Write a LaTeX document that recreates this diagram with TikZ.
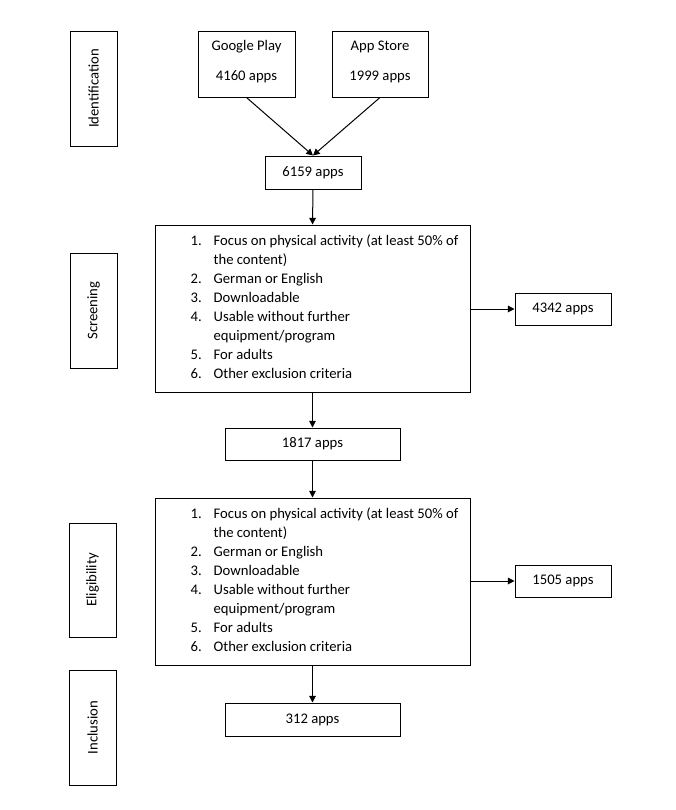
\documentclass[tikz,border=0pt]{standalone}
\usepackage{fontspec}
\setmainfont{Carlito}
\usetikzlibrary{arrows.meta}
\newcommand\critlist{%
\begin{tabular}{@{}p{17.25pt}@{}l@{}}
1. & Focus on physical activity (at least 50\% of\\
   & the content)\\
2. & German or English\\
3. & Downloadable\\
4. & Usable without further\\
   & equipment/program\\
5. & For adults\\
6. & Other exclusion criteria
\end{tabular}}
\begin{document}
\begin{tikzpicture}[x=0.75pt,y=-0.75pt,
  every node/.style={font=\fontsize{11}{13.4}\selectfont},
  box/.style={draw,line width=0.75pt,inner sep=0pt,align=center},
  sz/.style 2 args={minimum width=#1*0.75pt,minimum height=#2*0.75pt},
  stage/.style={box,rotate=90},
  listtext/.style={inner sep=0pt,font=\fontsize{11}{14.2}\selectfont},
  arr/.style={line width=0.75pt,-{Triangle[length=5pt,width=5pt]}}]
\useasboundingbox (0,0) rectangle (675,810);

% stage labels
\node[stage,sz={115}{47}] (ident) at (93.5,88.5) {Identification};
\node[stage,sz={115}{47}] (scrn) at (93.5,310.5) {Screening};
\node[stage,sz={114}{47}] (elig) at (92.5,580) {Eligibility};
\node[stage,sz={115}{47}] (incl) at (92.5,727.5) {Inclusion};

% sources
\node[box,sz={97}{66},label={[yshift=1.5pt,align=center]center:Google Play\\[9pt]4160 apps}] (gp) at (246.5,64) {};
\node[box,sz={96}{66},label={[yshift=1.5pt,align=center]center:App Store\\[9pt]1999 apps}] (as) at (380,64) {};

\node[box,sz={96}{33}] (n6159) at (313,172.5) {6159 apps};

% screening
\node[box,sz={315}{167}] (scr) at (312.5,308.5) {};
\node[listtext] (scrlist) at (324.5,308) {\critlist};
\node[box,sz={96}{32}] (n4342) at (563,309) {4342 apps};
\node[box,sz={175}{32}] (n1817) at (312.5,444) {1817 apps};

% eligibility
\node[box,sz={315}{167}] (elb) at (312.5,581.5) {};
\node[listtext] (ellist) at (324.5,581) {\critlist};
\node[box,sz={96}{32}] (n1505) at (563,581) {1505 apps};
\node[box,sz={175}{33}] (n312) at (312.5,719.5) {312 apps};

% connectors
\draw[arr] (gp.south) -- (n6159.north);
\draw[arr] (as.south) -- (n6159.north);
\draw[arr] (n6159.south) -- (scr.north);
\draw[arr] (scr.east |- n4342.west) -- (n4342.west);
\draw[arr] (scr.south) -- (n1817.north);
\draw[arr] (n1817.south) -- (elb.north);
\draw[arr] (elb.east |- n1505.west) -- (n1505.west);
\draw[arr] (elb.south) -- (n312.north);
\end{tikzpicture}
\end{document}
